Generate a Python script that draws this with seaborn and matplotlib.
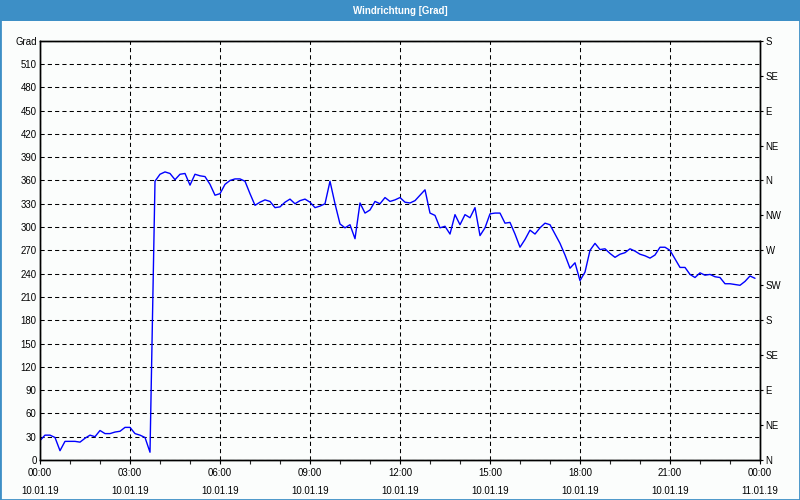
import matplotlib
matplotlib.use("Agg")
import matplotlib.pyplot as plt
import matplotlib.dates as mdates
from matplotlib.patches import Rectangle
import seaborn as sns
import pandas as pd

# ---- data ----
start_time = "2019-01-10 00:00"
interval = "10min"
wind_direction = [
    25, 32, 32, 29, 12, 24, 24, 24, 23, 28, 32, 30, 38, 34, 34, 36, 37, 42, 42, 34,
    32, 29, 10, 359, 368, 371, 369, 361, 368, 369, 354, 368, 366, 365, 355, 341, 343, 355, 360, 362,
    362, 359, 343, 328, 332, 335, 333, 325, 326, 332, 336, 330, 334, 336, 332, 325, 327, 330, 359, 330,
    304, 299, 303, 285, 331, 318, 322, 333, 330, 338, 333, 335, 338, 332, 331, 334, 341, 348, 318, 315,
    299, 301, 291, 316, 303, 316, 312, 325, 289, 299, 317, 318, 318, 305, 306, 291, 274, 284, 296, 291,
    299, 305, 303, 291, 279, 264, 247, 254, 231, 242, 270, 279, 271, 272, 266, 261, 265, 267, 272, 269,
    265, 263, 260, 264, 274, 274, 270, 259, 248, 248, 239, 235, 241, 238, 239, 236, 235, 227, 227, 226,
    225, 230, 237, 234,
]
left_ticks = list(range(0, 541, 30))
left_labels = [str(v) for v in left_ticks[:-1]] + ["Grad"]
right_ticks = list(range(0, 541, 45))
right_labels = ["N", "NE", "E", "SE", "S", "SW", "W", "NW", "N", "NE", "E", "SE", "S"]
title = "Windrichtung [Grad]"

times = pd.date_range(start_time, periods=len(wind_direction), freq=interval)
df = pd.DataFrame({"time": times, "deg": wind_direction})

# ---- style ----
sns.set_style("white")
plt.rcParams["font.family"] = ["Liberation Sans", "DejaVu Sans"]

bg = "#FBFDFC"
bar = "#3D8FC6"
fs = 6.9

fig = plt.figure(figsize=(8, 5), dpi=100, facecolor=bg)
ax = fig.add_axes([0.05, 0.08, 0.90, 0.9186 - 0.08])
ax.set_facecolor(bg)

sns.lineplot(data=df, x="time", y="deg", ax=ax, color="#0000FF", linewidth=1.0)

t0 = pd.Timestamp("2019-01-10 00:00")
t1 = pd.Timestamp("2019-01-11 00:00")
ax.set_xlim(t0, t1)
ax.set_ylim(0, 540)

ax.xaxis.set_major_locator(mdates.HourLocator(byhour=range(0, 24, 3)))
ax.xaxis.set_minor_locator(mdates.HourLocator())
ax.xaxis.set_major_formatter(mdates.DateFormatter("%H:%M\n%d.%m.%y"))
ax.set_yticks(left_ticks)
ax.set_yticklabels(left_labels)
ax.set_xlabel("")
ax.set_ylabel("")

ax.grid(True, which="major", color="black", linestyle=(0, (4, 3)), linewidth=0.75)
ax.tick_params(axis="y", which="both", left=False, length=0, pad=2.5, labelsize=fs, colors="black")
ax.tick_params(axis="x", which="major", bottom=True, direction="out", length=3, width=0.8,
               pad=3, labelsize=fs, colors="black")
ax.tick_params(axis="x", which="minor", bottom=True, direction="out", length=3, width=0.8)
for lbl in ax.get_xticklabels():
    lbl.set_linespacing(1.95)

for s in ax.spines.values():
    s.set_visible(True)
    s.set_color("black")
    s.set_linewidth(1.0)

ax2 = ax.twinx()
ax2.set_ylim(0, 540)
ax2.set_yticks(right_ticks)
ax2.set_yticklabels(right_labels)
ax2.tick_params(axis="y", right=True, direction="out", length=2.5, width=0.8, pad=1.5,
                labelsize=fs, colors="black")
ax2.grid(False)
for s in ax2.spines.values():
    s.set_visible(True)
    s.set_color("black")
    s.set_linewidth(1.0)

# title bar and border
fig.patches.append(Rectangle((0, 1 - 20.5 / 500), 1, 20.5 / 500, transform=fig.transFigure,
                             facecolor=bar, edgecolor="none", zorder=0))
fig.patches.append(Rectangle((0, 0), 1, 1, transform=fig.transFigure, fill=False,
                             edgecolor=bar, linewidth=2.0, zorder=5))
fig.text(0.5, 1 - 10.5 / 500, title, color="white", fontsize=7, fontweight="bold",
         ha="center", va="center")

fig.savefig("out.png", dpi=100, facecolor=bg)
